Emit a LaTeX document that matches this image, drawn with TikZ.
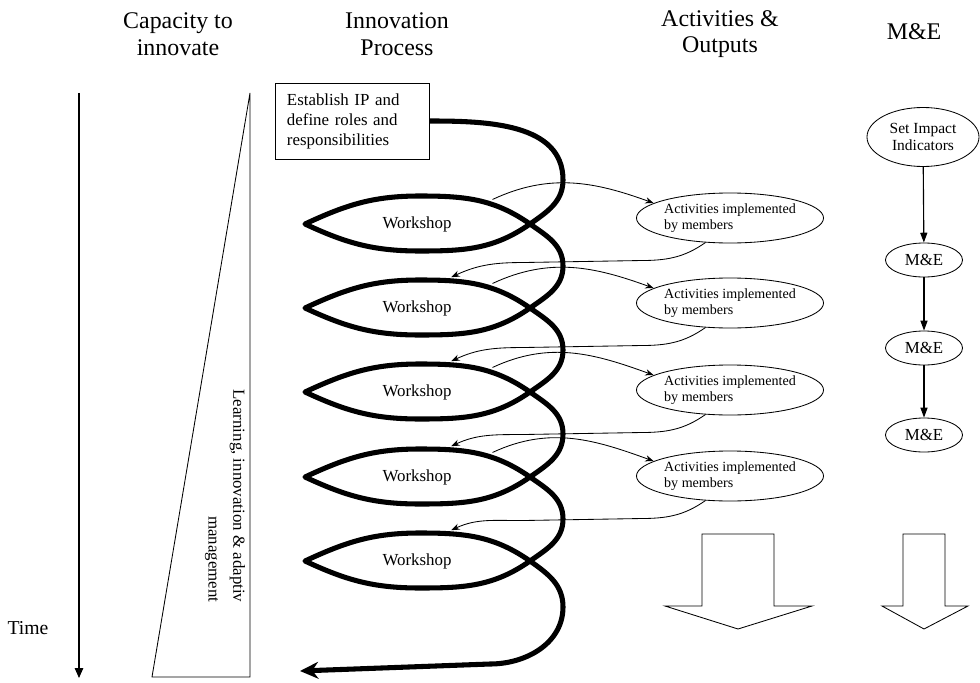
\documentclass[tikz,border=0pt]{standalone}
\usepackage{fontspec}
\setmainfont{Liberation Serif}
\usetikzlibrary{shapes.geometric,arrows.meta}

\begin{document}
\begin{tikzpicture}[x=0.025cm, y=0.025cm,
  head/.style={font=\fontsize{17}{19}\selectfont, align=center},
  actbox/.style={draw, line width=0.6pt, ellipse, minimum width=4.675cm, minimum height=1.25cm, inner sep=0pt, align=left, font=\fontsize{10}{11}\selectfont},
  mebox/.style={draw, line width=0.6pt, ellipse, minimum width=1.925cm, minimum height=0.85cm, inner sep=0pt, font=\fontsize{12}{14}\selectfont},
  wsbox/.style={ellipse, minimum width=5.625cm, minimum height=1.4cm, inner sep=0pt, outer sep=3pt, font=\fontsize{12}{14}\selectfont},
  spiral/.style={line width=3.6pt, line join=round, -{Stealth[length=13pt,width=12pt]}},
  loopline/.style={line width=0.6pt, -{Stealth[length=6pt,width=4.5pt]}},
  meline/.style={line width=0.8pt, -{Triangle[length=7pt,width=5pt]}},
  blockarrow/.style={line width=0.6pt}]
  \useasboundingbox (0,0) rectangle (980,-683);

  % column heads
  \node[head] (hcap) at (178,-34) {Capacity to\\innovate};
  \node[head] (hproc) at (397,-34) {Innovation\\Process};
  \node[head] (hact) at (720,-34) {Activities \&\\Outputs};
  \node[head] (hme) at (914,-32) {M\&E};

  % time axis
  \node[font=\fontsize{14}{16}\selectfont] (time) at (28,-628) {Time};
  \coordinate (ttop) at (79,-93);
  \coordinate (tbot) at (79,-678);
  \draw[line width=0.8pt, -{Triangle[length=7pt,width=6pt]}] (ttop) -- (tbot);

  % capacity wedge
  \draw[line width=0.6pt] (250,-93) -- (250,-677) -- (152,-677) -- cycle;
  \node[rotate=-90, align=right, font=\fontsize{12}{17.7}\selectfont] (learn) at (225,-496)
    {Learning, innovation \& adaptiv\\management};

  % innovation process
  \node[draw, line width=0.6pt, minimum width=3.85cm, minimum height=1.9cm, text width=3.25cm,
    inner xsep=0.3cm, align=left, font=\fontsize{12}{14.2}\selectfont] (ipbox) at (352,-121)
    {Establish IP and\\define roles and\\responsibilities};
  \node[wsbox] (ws1) at (417,-224) {Workshop};
  \node[wsbox] (ws2) at (417,-308) {Workshop};
  \node[wsbox] (ws3) at (417,-392) {Workshop};
  \node[wsbox] (ws4) at (417,-477) {Workshop};
  \node[wsbox] (ws5) at (417,-561) {Workshop};
  \coordinate (spiralend) at (300,-671);

  \draw[spiral] (ipbox.east) to[out=0,in=90] (563,-180) to[out=-90,in=35] (530,-224)
    to[out=215,in=0] (420,-251) to[out=180,in=-25] (305,-224) to[out=25,in=180] (420,-196) to[out=0,in=145] (530,-224)
    to[out=-35,in=90] (563,-266) to[out=-90,in=35] (530,-308)
    to[out=215,in=0] (420,-335) to[out=180,in=-25] (305,-308) to[out=25,in=180] (420,-280) to[out=0,in=145] (530,-308)
    to[out=-35,in=90] (563,-350) to[out=-90,in=35] (530,-392)
    to[out=215,in=0] (420,-419) to[out=180,in=-25] (305,-392) to[out=25,in=180] (420,-364) to[out=0,in=145] (530,-392)
    to[out=-35,in=90] (563,-434) to[out=-90,in=35] (530,-477)
    to[out=215,in=0] (420,-504) to[out=180,in=-25] (305,-477) to[out=25,in=180] (420,-449) to[out=0,in=145] (530,-477)
    to[out=-35,in=90] (563,-519) to[out=-90,in=35] (530,-561)
    to[out=215,in=0] (420,-588) to[out=180,in=-25] (305,-561) to[out=25,in=180] (420,-533) to[out=0,in=145] (530,-561)
    to[out=-35,in=90] (563,-607) to[out=-90,in=0] (490,-664) -- (spiralend);

  % activities
  \node[actbox] (act1) at (730,-218) {Activities implemented\\by members};
  \node[actbox] (act2) at (730,-303) {Activities implemented\\by members};
  \node[actbox] (act3) at (730,-390) {Activities implemented\\by members};
  \node[actbox] (act4) at (730,-476) {Activities implemented\\by members};

  \draw[loopline] (ws1.18) to[out=25,in=160] (act1.169);
  \draw[loopline] (ws2.18) to[out=25,in=160] (act2.169);
  \draw[loopline] (ws3.18) to[out=25,in=160] (act3.169);
  \draw[loopline] (ws4.18) to[out=25,in=160] (act4.169);

  \draw[loopline] (act1.225) to[out=215,in=0] ++(-66,-18) -- ++(-118,-2) to[out=180,in=25] (ws2.42);
  \draw[loopline] (act2.225) to[out=215,in=0] ++(-66,-18) -- ++(-118,-2) to[out=180,in=25] (ws3.42);
  \draw[loopline] (act3.225) to[out=215,in=0] ++(-66,-18) -- ++(-118,-2) to[out=180,in=25] (ws4.42);
  \draw[loopline] (act4.225) to[out=215,in=0] ++(-66,-18) -- ++(-118,-2) to[out=180,in=25] (ws5.42);

  % M&E
  \node[mebox, minimum width=2.8cm, minimum height=1.475cm, align=center,
    font=\fontsize{11}{12}\selectfont] (impact) at (923,-137) {Set Impact\\Indicators};
  \node[mebox] (me1) at (924,-260) {M\&E};
  \node[mebox] (me2) at (924,-348) {M\&E};
  \node[mebox] (me3) at (924,-435) {M\&E};
  \draw[meline] (impact) -- (me1);
  \draw[meline] (me1) -- (me2);
  \draw[meline] (me2) -- (me3);

  % outputs
  \draw[blockarrow] (702,-534) -- (774,-534) -- (774,-606) -- (812,-606) -- (738,-629)
    -- (665,-606) -- (702,-606) -- cycle;
  \draw[blockarrow] (903,-534) -- (945,-534) -- (945,-606) -- (968,-606) -- (924,-629)
    -- (882,-606) -- (903,-606) -- cycle;
\end{tikzpicture}
\end{document}
